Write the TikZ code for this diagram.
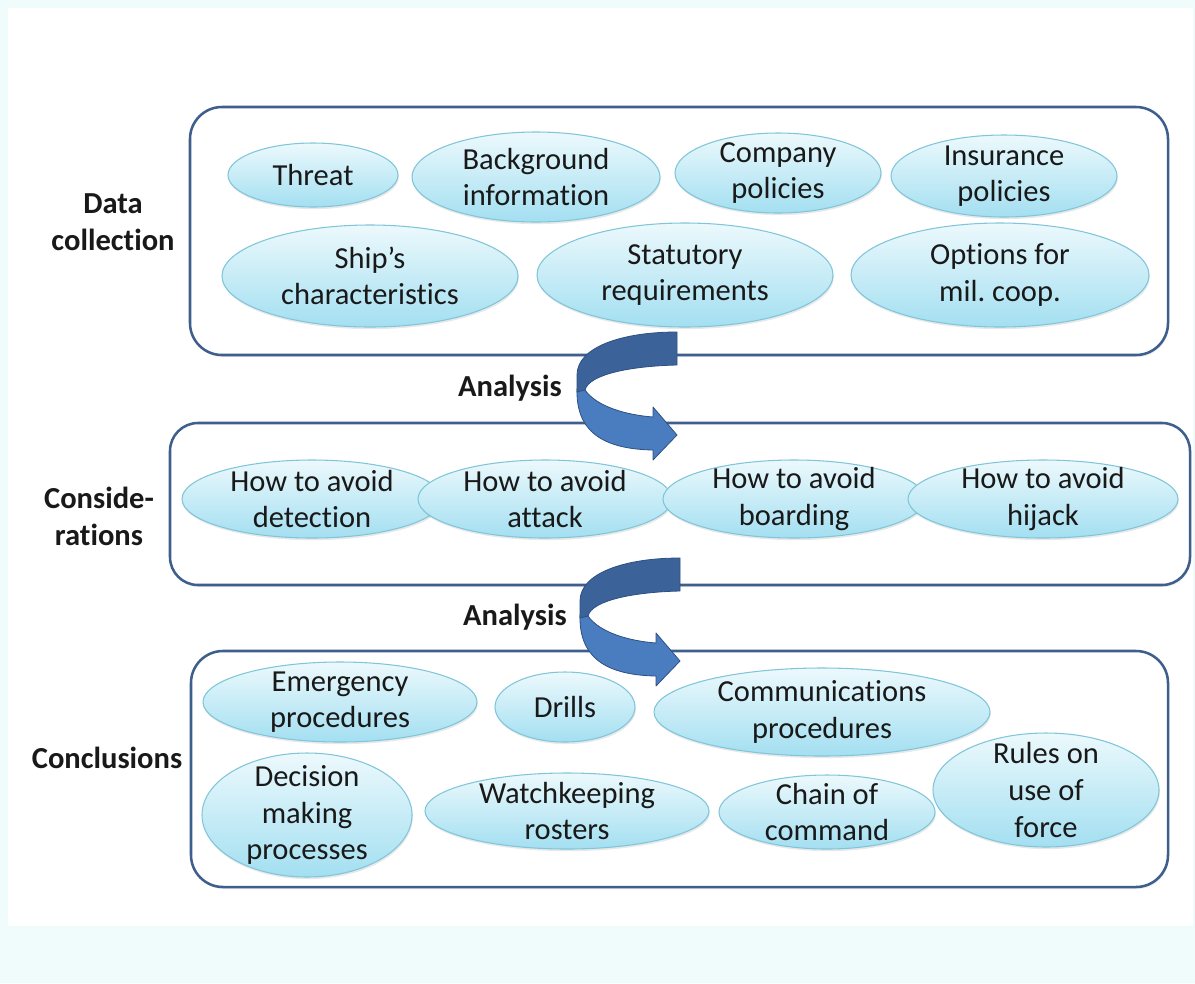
\documentclass[tikz,border=0pt]{standalone}
\usepackage{fontspec}
\setmainfont{Carlito}[Ligatures={NoCommon,NoContextual}]
\usetikzlibrary{shapes.geometric,shadows}
\definecolor{bgc}{RGB}{240,251,251}
\definecolor{boxc}{RGB}{62,95,140}
\definecolor{elltop}{RGB}{236,249,252}
\definecolor{ellbot}{RGB}{163,223,241}
\definecolor{ellline}{RGB}{128,198,218}
\definecolor{arrdark}{RGB}{59,99,153}
\definecolor{arrlight}{RGB}{74,125,191}
\definecolor{arrline}{RGB}{45,80,130}
\definecolor{txtc}{RGB}{25,25,25}
\frenchspacing
\tikzset{
  stagebox/.style={draw=boxc, line width=1.9pt, rounded corners=24pt, fill=white, inner sep=0pt,
    drop shadow={opacity=0.15, shadow xshift=0.8pt, shadow yshift=-1.5pt}},
  bub/.style={ellipse, draw=ellline, line width=0.8pt, top color=elltop, bottom color=ellbot, inner sep=0pt,
    drop shadow={opacity=0.18, shadow xshift=0.6pt, shadow yshift=-1.6pt}},
  bubtxt/.style={font=\fontsize{22.9}{27.5}\selectfont, text=txtc, align=center, inner sep=0pt},
  sidelbl/.style={font=\fontsize{22.9}{27.8}\selectfont\bfseries, text=txtc, align=center, inner sep=0pt},
  arrfront/.style={fill=arrdark, draw=arrline, line width=0.6pt, line join=round},
  arrback/.style={fill=arrlight, draw=arrline, line width=0.6pt, line join=round}
}
\newcommand\bubble[6]{%
  \node[bub, minimum width={#4*1.5pt}, minimum height={#5*1.5pt}] (#1) at (#2,#3) {};
  \node[bubtxt] (#1-t) at (#1.center) {#6};}
% curved ribbon arrow, origin = top right corner of its flat tail
\newcommand\curvearrow{%
  \path[arrback] (-100,57) .. controls (-101,95) and (-80,117) .. (-24,118) -- (-24,128) -- (0,103)
    -- (-24,75) -- (-24,85) .. controls (-50,83) and (-80,75) .. (-92,58) -- cycle;
  \path[arrfront] (0,0) -- (0,33) .. controls (-45,34) and (-88,42) .. (-92,58)
    -- (-100,60) -- (-100,43) .. controls (-100,15) and (-55,0) .. (0,0) -- cycle;}
\begin{document}
\begin{tikzpicture}[x=0.75pt, y=-0.75pt]
\useasboundingbox (0,0) rectangle (1195,983);
\fill[bgc] (0,0) rectangle (1195,983);
\fill[white] (8,8) rectangle (1193,926);

% stage boxes
\node[stagebox, minimum width={978*0.75pt}, minimum height={248*0.75pt}] (dcbox) at (679,231) {};
\node[stagebox, minimum width={1020*0.75pt}, minimum height={162*0.75pt}, rounded corners=21pt] (cobox) at (680,504) {};
\node[stagebox, minimum width={977*0.75pt}, minimum height={236*0.75pt}] (clbox) at (679.5,769) {};

% data collection
\bubble{threat}{313}{175}{85}{32}{Threat}
\bubble{bg}{536}{177}{124}{45}{Background\\information}
\bubble{cp}{778}{173}{103}{40}{Company\\policies}
\bubble{ip}{1004}{176}{113}{41}{Insurance\\policies}
\bubble{sc}{370}{276}{148}{51}{Ship’s\\characteristics}
\bubble{sr}{685}{275}{148}{52}{Statutory\\requirements}
\bubble{om}{1000}{275}{149}{52}{Options for\\mil. coop.}

% considerations
\bubble{det}{312}{499}{130}{39}{How to avoid\\detection}
\bubble{att}{545}{499}{127}{39}{How to avoid\\attack}
\bubble{brd}{794}{499}{131}{39}{How to avoid\\boarding}
\bubble{hij}{1043}{499}{135}{39}{How to avoid\\hijack}

% conclusions
\bubble{em}{340}{702}{137}{40}{Emergency\\procedures}
\bubble{dr}{565}{707}{70}{35}{Drills}
\bubble{cm}{822}{712}{168}{44}{Communications\\procedures}
\bubble{dm}{307}{815}{105}{62}{Decision\\making\\processes}
\bubble{wk}{567}{811}{142}{38}{Watchkeeping\\rosters}
\bubble{ch}{827}{812}{108}{37}{Chain of\\command}
\bubble{ru}{1046}{790}{113}{57}{Rules on\\use of\\force}

% analysis arrows
\begin{scope}[shift={(677,332)}]
\curvearrow
\end{scope}
\begin{scope}[shift={(680,558)}]
\curvearrow
\end{scope}

% labels
\node[sidelbl] (lbldc) at (113,222) {Data\\collection};
\node[sidelbl] (lblco) at (99,516) {Conside-\\rations};
\node[sidelbl] (lblcl) at (107,758) {Conclusions};
\node[sidelbl] (an1) at (510,388) {Analysis};
\node[sidelbl] (an2) at (515,617) {Analysis};
\end{tikzpicture}
\end{document}
